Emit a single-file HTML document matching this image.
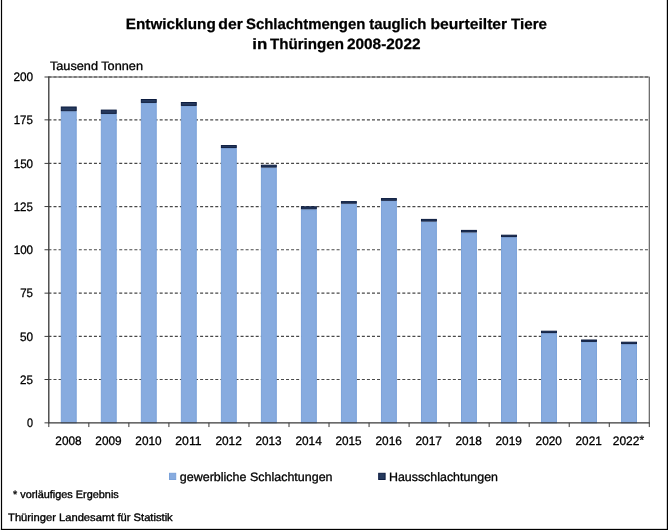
<!DOCTYPE html>
<html lang="de"><head><meta charset="utf-8"><title>Entwicklung der Schlachtmengen tauglich beurteilter Tiere in Thüringen 2008-2022</title>
<style>html,body{margin:0;padding:0;background:#fff;overflow:hidden}svg{display:block}text{font-family:"Liberation Sans",sans-serif;fill:#000;text-rendering:geometricPrecision;stroke:#000;stroke-linejoin:round}.t{font-weight:bold}</style></head><body>
<svg width="668" height="531" viewBox="0 0 668 531">
<rect x="0" y="0" width="668" height="531" fill="#fff"/>
<rect x="0.9" y="0" width="1.2" height="530" fill="#000"/>
<rect x="666.8" y="0" width="1.2" height="530" fill="#000"/>
<rect x="0.9" y="528.85" width="667.1" height="1.15" fill="#000"/>
<path d="M48.8 77.0H649.3V422.85" fill="none" stroke="#5c5c5c" stroke-width="1.15" stroke-linejoin="round"/>
<path d="M48.45 379.50H649.3M48.45 336.40H649.3M48.45 293.15H649.3M48.45 249.75H649.3M48.45 206.55H649.3M48.45 163.40H649.3M48.45 119.85H649.3M48.45 77.00H649.3" fill="none" stroke="#484848" stroke-width="1.15" stroke-dasharray="3 2.055"/>
<rect x="61.30" y="111.70" width="14.9" height="311.15" fill="#87abdf" stroke="#7ba2d9" stroke-width="1"/>
<rect x="61.30" y="107.00" width="14.9" height="3.70" fill="#25395d" stroke="#0c1c40" stroke-width="1"/>
<rect x="101.32" y="114.40" width="14.9" height="308.45" fill="#87abdf" stroke="#7ba2d9" stroke-width="1"/>
<rect x="101.32" y="110.10" width="14.9" height="3.30" fill="#25395d" stroke="#0c1c40" stroke-width="1"/>
<rect x="141.34" y="103.40" width="14.9" height="319.45" fill="#87abdf" stroke="#7ba2d9" stroke-width="1"/>
<rect x="141.34" y="99.50" width="14.9" height="2.90" fill="#25395d" stroke="#0c1c40" stroke-width="1"/>
<rect x="181.36" y="106.40" width="14.9" height="316.45" fill="#87abdf" stroke="#7ba2d9" stroke-width="1"/>
<rect x="181.36" y="102.50" width="14.9" height="2.90" fill="#25395d" stroke="#0c1c40" stroke-width="1"/>
<rect x="221.38" y="148.57" width="14.9" height="274.28" fill="#87abdf" stroke="#7ba2d9" stroke-width="1"/>
<rect x="221.38" y="145.56" width="14.9" height="2.01" fill="#25395d" stroke="#0c1c40" stroke-width="1"/>
<rect x="261.40" y="168.10" width="14.9" height="254.75" fill="#87abdf" stroke="#7ba2d9" stroke-width="1"/>
<rect x="261.40" y="165.20" width="14.9" height="1.90" fill="#25395d" stroke="#0c1c40" stroke-width="1"/>
<rect x="301.42" y="209.80" width="14.9" height="213.05" fill="#87abdf" stroke="#7ba2d9" stroke-width="1"/>
<rect x="301.42" y="206.80" width="14.9" height="2.00" fill="#25395d" stroke="#0c1c40" stroke-width="1"/>
<rect x="341.44" y="204.20" width="14.9" height="218.65" fill="#87abdf" stroke="#7ba2d9" stroke-width="1"/>
<rect x="341.44" y="201.60" width="14.9" height="1.60" fill="#25395d" stroke="#0c1c40" stroke-width="1"/>
<rect x="381.46" y="201.30" width="14.9" height="221.55" fill="#87abdf" stroke="#7ba2d9" stroke-width="1"/>
<rect x="381.46" y="198.57" width="14.9" height="1.73" fill="#25395d" stroke="#0c1c40" stroke-width="1"/>
<rect x="421.48" y="222.10" width="14.9" height="200.75" fill="#87abdf" stroke="#7ba2d9" stroke-width="1"/>
<rect x="421.48" y="219.40" width="14.9" height="1.70" fill="#25395d" stroke="#0c1c40" stroke-width="1"/>
<rect x="461.50" y="233.00" width="14.9" height="189.85" fill="#87abdf" stroke="#7ba2d9" stroke-width="1"/>
<rect x="461.50" y="230.40" width="14.9" height="1.60" fill="#25395d" stroke="#0c1c40" stroke-width="1"/>
<rect x="501.52" y="237.60" width="14.9" height="185.25" fill="#87abdf" stroke="#7ba2d9" stroke-width="1"/>
<rect x="501.52" y="235.20" width="14.9" height="1.40" fill="#25395d" stroke="#0c1c40" stroke-width="1"/>
<rect x="541.54" y="333.60" width="14.9" height="89.25" fill="#87abdf" stroke="#7ba2d9" stroke-width="1"/>
<rect x="541.54" y="331.20" width="14.9" height="1.40" fill="#25395d" stroke="#0c1c40" stroke-width="1"/>
<rect x="581.56" y="342.40" width="14.9" height="80.45" fill="#87abdf" stroke="#7ba2d9" stroke-width="1"/>
<rect x="581.56" y="340.00" width="14.9" height="1.40" fill="#25395d" stroke="#0c1c40" stroke-width="1"/>
<rect x="621.58" y="344.60" width="14.9" height="78.25" fill="#87abdf" stroke="#7ba2d9" stroke-width="1"/>
<rect x="621.58" y="342.20" width="14.9" height="1.40" fill="#25395d" stroke="#0c1c40" stroke-width="1"/>
<path d="M44.5 422.85H48.8M44.5 379.50H48.8M44.5 336.40H48.8M44.5 293.15H48.8M44.5 249.75H48.8M44.5 206.55H48.8M44.5 163.40H48.8M44.5 119.85H48.8M44.5 77.00H48.8M48.80 422.85V427.05M88.83 422.85V427.05M128.87 422.85V427.05M168.90 422.85V427.05M208.93 422.85V427.05M248.97 422.85V427.05M289.00 422.85V427.05M329.03 422.85V427.05M369.07 422.85V427.05M409.10 422.85V427.05M449.13 422.85V427.05M489.17 422.85V427.05M529.20 422.85V427.05M569.23 422.85V427.05M609.27 422.85V427.05M649.30 422.85V427.05" fill="none" stroke="#3a3a3a" stroke-width="1"/>
<path d="M48.8 76.4V422.85M48.199999999999996 422.85H649.9" fill="none" stroke="#3a3a3a" stroke-width="1.33"/>
<text class="t" y="29" font-size="15.0" stroke-width="0.25"><tspan x="125.81" textLength="90.00" lengthAdjust="spacingAndGlyphs">Entwicklung</tspan> <tspan x="218.29" textLength="24.52" lengthAdjust="spacingAndGlyphs">der</tspan> <tspan x="245.93" textLength="119.46" lengthAdjust="spacingAndGlyphs">Schlachtmengen</tspan> <tspan x="369.18" textLength="57.11" lengthAdjust="spacingAndGlyphs">tauglich</tspan> <tspan x="430.48" textLength="76.74" lengthAdjust="spacingAndGlyphs">beurteilter</tspan> <tspan x="511.07" textLength="36.00" lengthAdjust="spacingAndGlyphs">Tiere</tspan></text>
<text class="t" y="49" font-size="15.0" stroke-width="0.25"><tspan x="252.31" textLength="14.99" lengthAdjust="spacingAndGlyphs">in</tspan> <tspan x="269.97" textLength="74.02" lengthAdjust="spacingAndGlyphs">Thüringen</tspan> <tspan x="346.96" textLength="73.57" lengthAdjust="spacingAndGlyphs">2008-2022</tspan></text>
<text class="l" x="49.90" y="70" font-size="12.1" stroke-width="0.3" textLength="93.07" lengthAdjust="spacingAndGlyphs">Tausend Tonnen</text>
<text class="a" x="27.03" y="427" font-size="12.2" stroke-width="0.3" textLength="6.02" lengthAdjust="spacingAndGlyphs">0</text>
<text class="a" x="20.02" y="384" font-size="12.2" stroke-width="0.3" textLength="12.93" lengthAdjust="spacingAndGlyphs">25</text>
<text class="a" x="19.99" y="341" font-size="12.2" stroke-width="0.3" textLength="13.09" lengthAdjust="spacingAndGlyphs">50</text>
<text class="a" x="20.16" y="297" font-size="12.2" stroke-width="0.3" textLength="12.78" lengthAdjust="spacingAndGlyphs">75</text>
<text class="a" x="13.69" y="254" font-size="12.2" stroke-width="0.3" textLength="19.39" lengthAdjust="spacingAndGlyphs">100</text>
<text class="a" x="13.70" y="211" font-size="12.2" stroke-width="0.3" textLength="19.24" lengthAdjust="spacingAndGlyphs">125</text>
<text class="a" x="13.69" y="168" font-size="12.2" stroke-width="0.3" textLength="19.39" lengthAdjust="spacingAndGlyphs">150</text>
<text class="a" x="13.70" y="124" font-size="12.2" stroke-width="0.3" textLength="19.24" lengthAdjust="spacingAndGlyphs">175</text>
<text class="a" x="13.38" y="81" font-size="12.2" stroke-width="0.3" textLength="19.70" lengthAdjust="spacingAndGlyphs">200</text>
<text class="a" x="55.31" y="445" font-size="12.2" stroke-width="0.3" textLength="26.33" lengthAdjust="spacingAndGlyphs">2008</text>
<text class="a" x="95.33" y="445" font-size="12.2" stroke-width="0.3" textLength="26.32" lengthAdjust="spacingAndGlyphs">2009</text>
<text class="a" x="135.35" y="445" font-size="12.2" stroke-width="0.3" textLength="26.33" lengthAdjust="spacingAndGlyphs">2010</text>
<text class="a" x="175.35" y="445" font-size="12.2" stroke-width="0.3" textLength="26.22" lengthAdjust="spacingAndGlyphs">2011</text>
<text class="a" x="215.38" y="445" font-size="12.2" stroke-width="0.3" textLength="26.46" lengthAdjust="spacingAndGlyphs">2012</text>
<text class="a" x="255.41" y="445" font-size="12.2" stroke-width="0.3" textLength="26.19" lengthAdjust="spacingAndGlyphs">2013</text>
<text class="a" x="295.42" y="445" font-size="12.2" stroke-width="0.3" textLength="26.35" lengthAdjust="spacingAndGlyphs">2014</text>
<text class="a" x="335.45" y="445" font-size="12.2" stroke-width="0.3" textLength="26.19" lengthAdjust="spacingAndGlyphs">2015</text>
<text class="a" x="375.47" y="445" font-size="12.2" stroke-width="0.3" textLength="26.33" lengthAdjust="spacingAndGlyphs">2016</text>
<text class="a" x="415.48" y="445" font-size="12.2" stroke-width="0.3" textLength="26.46" lengthAdjust="spacingAndGlyphs">2017</text>
<text class="a" x="455.51" y="445" font-size="12.2" stroke-width="0.3" textLength="26.33" lengthAdjust="spacingAndGlyphs">2018</text>
<text class="a" x="495.53" y="445" font-size="12.2" stroke-width="0.3" textLength="26.32" lengthAdjust="spacingAndGlyphs">2019</text>
<text class="a" x="535.55" y="445" font-size="12.2" stroke-width="0.3" textLength="26.33" lengthAdjust="spacingAndGlyphs">2020</text>
<text class="a" x="575.57" y="445" font-size="12.2" stroke-width="0.3" textLength="26.18" lengthAdjust="spacingAndGlyphs">2021</text>
<text class="a" x="612.79" y="445" font-size="12.2" stroke-width="0.3" textLength="31.31" lengthAdjust="spacingAndGlyphs">2022<tspan dy="-0.8">*</tspan></text>
<rect x="169.5" y="473.3" width="6.2" height="6.2" fill="#87abdf" stroke="#7ba2d9" stroke-width="1"/>
<text class="l" x="179.85" y="481" font-size="12.1" stroke-width="0.3" textLength="152.70" lengthAdjust="spacingAndGlyphs">gewerbliche Schlachtungen</text>
<rect x="378.7" y="473.3" width="6.4" height="6.2" fill="#25395d" stroke="#0c1c40" stroke-width="1"/>
<text class="l" x="388.96" y="481" font-size="12.1" stroke-width="0.3" textLength="108.99" lengthAdjust="spacingAndGlyphs">Hausschlachtungen</text>
<text class="f" x="12.97" y="498" font-size="10.8" stroke-width="0.35" textLength="105.78" lengthAdjust="spacingAndGlyphs">* vorläufiges Ergebnis</text>
<text class="f" x="8.05" y="521" font-size="10.8" stroke-width="0.35" textLength="164.66" lengthAdjust="spacingAndGlyphs">Thüringer Landesamt für Statistik</text>
</svg></body></html>
